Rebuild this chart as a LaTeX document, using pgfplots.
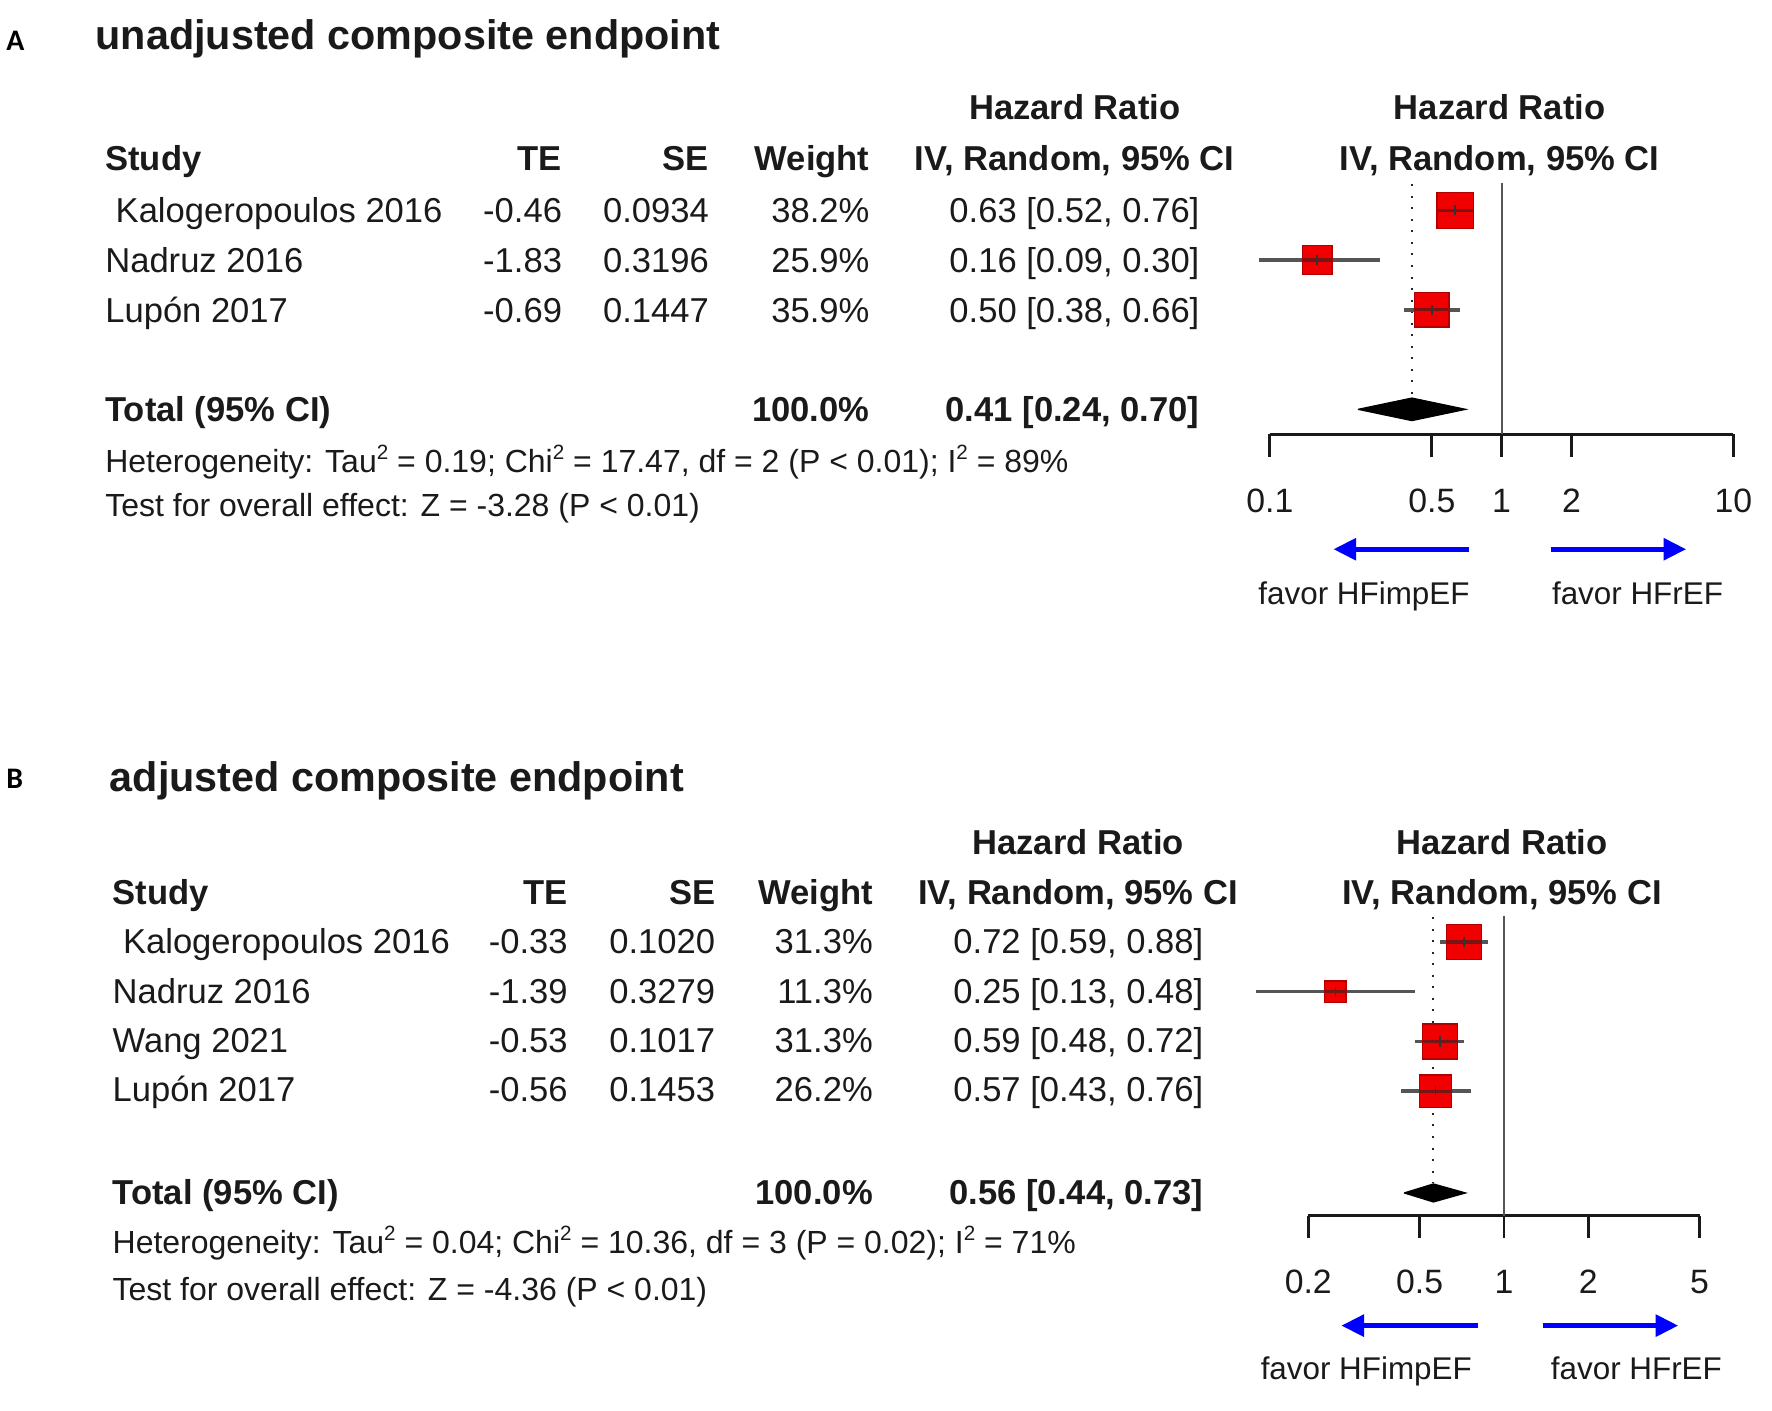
\documentclass[border=0pt]{standalone}
\usepackage{fontspec}
\setmainfont{Liberation Sans}
\newfontfamily\lblfont{Carlito}
\usepackage{pgfplots}
\pgfplotsset{compat=1.18}
\usetikzlibrary{arrows.meta}

\definecolor{cigray}{HTML}{555555}
\definecolor{refgray}{HTML}{555555}
\definecolor{sqred}{HTML}{F00000}
\definecolor{sqedge}{HTML}{B00000}
\definecolor{inline}{HTML}{7A1414}
\definecolor{txtcol}{HTML}{1A1A1A}

\newcommand{\sq}{\raisebox{0.75ex}{\fontsize{5.2}{6}\selectfont 2}}

% column positions, redefined for each panel
\def\cN{92.5}\def\cTE{498}\def\cSE{628}\def\cW{770}\def\cHR{1062}
\newcommand{\trow}[6]{%
  \node[txt, anchor=base west] at (\cN,#1) {#2};
  \node[txt, anchor=base east] at (\cTE,#1) {#3};
  \node[txt, anchor=base east] at (\cSE,#1) {#4};
  \node[txt, anchor=base east] at (\cW,#1) {#5};
  \node[txt, anchor=base east] at (\cHR,#1) {#6};}

\pgfplotsset{
  fplot/.style={scale only axis, clip=false,
    axis x line*=bottom, axis y line=none,
    tick align=outside, major tick length=0.2cm, xminorticks=false,
    axis line style={line width=0.7pt, black!90},
    every tick/.style={line width=0.7pt, black!90},
    xticklabel style={font=\fontsize{8.5}{10}\selectfont, text=txtcol, inner sep=0pt, anchor=base, yshift=-0.49cm},
    /pgf/number format/assume math mode=true},
  refline/.style={refgray, line width=0.55pt, forget plot},
  dotline/.style={black!85, line width=0.5pt, dash pattern=on 0.5pt off 2.4pt, forget plot},
  ci/.style={cigray, line width=0.85pt, forget plot},
  hrsq/.style={only marks, mark=square*, mark options={fill=sqred, draw=sqedge, line width=0.35pt}},
  inci/.style={only marks, mark=-, mark options={draw=inline, line width=0.8pt}},
  cross/.style={only marks, mark=|, mark size=0.045cm, mark options={black!80, line width=0.45pt}},
  diam/.style={fill=black, draw=black, line width=0.3pt},
}

\begin{document}
\begin{tikzpicture}[
  txt/.style={inner sep=0pt, text=txtcol, font=\fontsize{8.7}{10}\selectfont},
  hdr/.style={inner sep=0pt, text=txtcol, font=\fontsize{8.7}{10}\selectfont\bfseries},
  het/.style={inner sep=0pt, text=txtcol, font=\fontsize{8.05}{9.5}\selectfont},
  ttl/.style={inner sep=0pt, text=txtcol, font=\fontsize{10.4}{12}\selectfont\bfseries},
  fav/.style={inner sep=0pt, text=txtcol, font=\fontsize{7.9}{9}\selectfont},
  plab/.style={inner sep=0pt, text=black, font=\lblfont\fontsize{7.5}{9}\selectfont\bfseries},
  arr/.style={blue, line width=1.15pt, -{Triangle[length=0.2cm, width=0.19cm]}}]

% panel A forest plot: 0.1 -> x 1123, 10 -> x 1533, axis line at y 384
\begin{axis}[fplot, xmode=log, at={(11.23cm,-3.84cm)}, anchor=south west,
  width=4.10cm, height=2.34cm, xmin=0.1, xmax=10, ymin=-384, ymax=-150,
  xtick={0.1,0.5,1,2,10}, xticklabels={0.1,0.5,1,2,10}]
\addplot[refline] coordinates {(1,-162) (1,-384)};
\addplot[dotline] coordinates {(0.41,-163) (0.41,-352)};
% Kalogeropoulos 2016
\addplot[ci] coordinates {(0.52,-186) (0.76,-186)};
\addplot[hrsq, mark size=0.16cm] coordinates {(0.63,-186)};
\addplot[inci, mark size=0.155cm] coordinates {(0.63,-186)};
\addplot[cross] coordinates {(0.63,-186)};
% Nadruz 2016
\addplot[ci] coordinates {(0.09,-230) (0.30,-230)};
\addplot[hrsq, mark size=0.13cm] coordinates {(0.16,-230)};
\addplot[inci, mark size=0.125cm] coordinates {(0.16,-230)};
\addplot[cross] coordinates {(0.16,-230)};
% Lupon 2017
\addplot[ci] coordinates {(0.38,-274) (0.66,-274)};
\addplot[hrsq, mark size=0.152cm] coordinates {(0.50,-274)};
\addplot[inci, mark size=0.147cm] coordinates {(0.50,-274)};
\addplot[cross] coordinates {(0.50,-274)};
% pooled
\addplot[diam] coordinates {(0.24,-362) (0.41,-352) (0.70,-362) (0.41,-372) (0.24,-362)};
\end{axis}

% panel B forest plot: 0.2 -> x 1157, 5 -> x 1503, axis line at y 1075
\begin{axis}[fplot, xmode=log, at={(11.57cm,-10.75cm)}, anchor=south west,
  width=3.46cm, height=2.75cm, xmin=0.2, xmax=5, ymin=-1075, ymax=-800,
  xtick={0.2,0.5,1,2,5}, xticklabels={0.2,0.5,1,2,5}]
\addplot[refline] coordinates {(1,-810) (1,-1075)};
\addplot[dotline] coordinates {(0.56,-811) (0.56,-1046)};
% Kalogeropoulos 2016
\addplot[ci] coordinates {(0.59,-833) (0.88,-833)};
\addplot[hrsq, mark size=0.155cm] coordinates {(0.72,-833)};
\addplot[inci, mark size=0.15cm] coordinates {(0.72,-833)};
\addplot[cross] coordinates {(0.72,-833)};
% Nadruz 2016
\addplot[ci] coordinates {(0.13,-877) (0.48,-877)};
\addplot[hrsq, mark size=0.095cm] coordinates {(0.25,-877)};
\addplot[inci, mark size=0.09cm] coordinates {(0.25,-877)};
\addplot[cross] coordinates {(0.25,-877)};
% Wang 2021
\addplot[ci] coordinates {(0.48,-921) (0.72,-921)};
\addplot[hrsq, mark size=0.155cm] coordinates {(0.59,-921)};
\addplot[inci, mark size=0.15cm] coordinates {(0.59,-921)};
\addplot[cross] coordinates {(0.59,-921)};
% Lupon 2017
\addplot[ci] coordinates {(0.43,-965) (0.76,-965)};
\addplot[hrsq, mark size=0.142cm] coordinates {(0.57,-965)};
\addplot[inci, mark size=0.137cm] coordinates {(0.57,-965)};
\addplot[cross] coordinates {(0.57,-965)};
% pooled
\addplot[diam] coordinates {(0.44,-1055) (0.56,-1047) (0.73,-1055) (0.56,-1063) (0.44,-1055)};
\end{axis}

\begin{scope}[x=0.01cm, y=-0.01cm]
\useasboundingbox (0,0) rectangle (1568,1248);

% ---------------- panel A ----------------
\node[plab, anchor=base west] at (5,45) {A};
\node[ttl, anchor=base west] at (84,44) {unadjusted composite endpoint};

\node[hdr, anchor=base] at (951,106) {Hazard Ratio};
\node[hdr, anchor=base] at (1327,106) {Hazard Ratio};
\node[hdr, anchor=base west] at (\cN,151) {Study};
\node[hdr, anchor=base east] at (\cTE,151) {TE};
\node[hdr, anchor=base east] at (\cSE,151) {SE};
\node[hdr, anchor=base east] at (\cW,151) {Weight};
\node[hdr, anchor=base] at (951,151) {IV, Random, 95\% CI};
\node[hdr, anchor=base] at (1327,151) {IV, Random, 95\% CI};

\trow{197}{\kern0.3em Kalogeropoulos 2016}{-0.46}{0.0934}{38.2\%}{0.63 [0.52, 0.76]}
\trow{241}{Nadruz 2016}{-1.83}{0.3196}{25.9\%}{0.16 [0.09, 0.30]}
\trow{285}{Lupón 2017}{-0.69}{0.1447}{35.9\%}{0.50 [0.38, 0.66]}

\node[hdr, anchor=base west] at (\cN,373) {Total (95\% CI)};
\node[hdr, anchor=base east] at (\cW,373) {100.0\%};
\node[hdr, anchor=base east] at (\cHR,373) {0.41 [0.24, 0.70]};
\node[het, anchor=base west] at (\cN,418) {Heterogeneity: Tau\sq{} = 0.19; Chi\sq{} = 17.47, df = 2 (P < 0.01); I\sq{} = 89\%};
\node[het, anchor=base west] at (\cN,457) {Test for overall effect: Z = -3.28 (P < 0.01)};

\draw[arr] (1300,486) -- (1180,486);
\draw[arr] (1372,486) -- (1492,486);
\node[fav, anchor=base] at (1207,535) {favor HFimpEF};
\node[fav, anchor=base] at (1449,535) {favor HFrEF};

% ---------------- panel B ----------------
\def\cN{99}\def\cTE{503}\def\cSE{633.5}\def\cW{773}\def\cHR{1065.5}
\node[plab, anchor=base west] at (5,698) {B};
\node[ttl, anchor=base west] at (96.5,700) {adjusted composite endpoint};

\node[hdr, anchor=base] at (954,756) {Hazard Ratio};
\node[hdr, anchor=base] at (1329,756) {Hazard Ratio};
\node[hdr, anchor=base west] at (\cN,800) {Study};
\node[hdr, anchor=base east] at (\cTE,800) {TE};
\node[hdr, anchor=base east] at (\cSE,800) {SE};
\node[hdr, anchor=base east] at (\cW,800) {Weight};
\node[hdr, anchor=base] at (954,800) {IV, Random, 95\% CI};
\node[hdr, anchor=base] at (1329,800) {IV, Random, 95\% CI};

\trow{844}{\kern0.3em Kalogeropoulos 2016}{-0.33}{0.1020}{31.3\%}{0.72 [0.59, 0.88]}
\trow{888}{Nadruz 2016}{-1.39}{0.3279}{11.3\%}{0.25 [0.13, 0.48]}
\trow{931}{Wang 2021}{-0.53}{0.1017}{31.3\%}{0.59 [0.48, 0.72]}
\trow{975}{Lupón 2017}{-0.56}{0.1453}{26.2\%}{0.57 [0.43, 0.76]}

\node[hdr, anchor=base west] at (\cN,1066) {Total (95\% CI)};
\node[hdr, anchor=base east] at (\cW,1066) {100.0\%};
\node[hdr, anchor=base east] at (\cHR,1066) {0.56 [0.44, 0.73]};
\node[het, anchor=base west] at (\cN,1109) {Heterogeneity: Tau\sq{} = 0.04; Chi\sq{} = 10.36, df = 3 (P = 0.02); I\sq{} = 71\%};
\node[het, anchor=base west] at (\cN,1151) {Test for overall effect: Z = -4.36 (P < 0.01)};

\draw[arr] (1308,1173) -- (1187,1173);
\draw[arr] (1365,1173) -- (1485,1173);
\node[fav, anchor=base] at (1209,1221) {favor HFimpEF};
\node[fav, anchor=base] at (1448,1221) {favor HFrEF};
\end{scope}
\end{tikzpicture}
\end{document}
